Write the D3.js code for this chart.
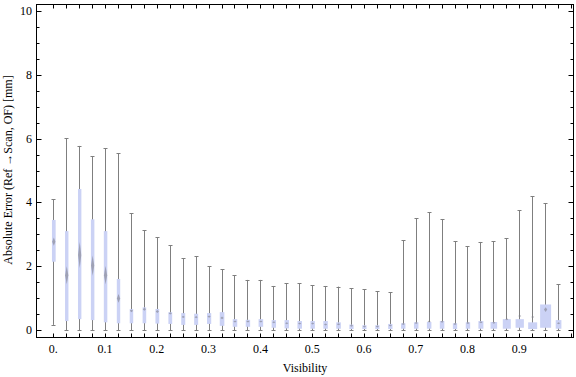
<!DOCTYPE html>
<html>
<head>
<meta charset="utf-8">
<script src="https://cdn.jsdelivr.net/npm/d3@7"></script>
<style>
  body { margin: 0; background: #fff; }
  svg { display: block; }
  text { font-family: "Liberation Serif", "DejaVu Serif", serif; fill: #000; }
</style>
</head>
<body>
<div id="chart"></div>
<script>
'use strict';

// box-whisker stats per visibility bin
var visibility = [0, 0.025, 0.05, 0.075, 0.1, 0.125, 0.15, 0.175, 0.2, 0.225,
    0.25, 0.275, 0.3, 0.325, 0.35, 0.375, 0.4, 0.425, 0.45, 0.475,
    0.5, 0.525, 0.55, 0.575, 0.6, 0.625, 0.65, 0.675, 0.7, 0.725,
    0.75, 0.775, 0.8, 0.825, 0.85, 0.875, 0.9, 0.925, 0.95, 0.975];
var whiskerLow = [0.16, 0, 0, 0, 0, 0, 0, 0, 0, 0,
    0, 0, 0, 0, 0, 0, 0, 0, 0, 0,
    0, 0, 0, 0, 0, 0, 0, 0, 0, 0,
    0, 0, 0, 0, 0, 0, 0, 0, 0, 0];
var quartile1 = [2.14, 0.28, 0.34, 0.31, 0.24, 0.21, 0.21, 0.21, 0.20, 0.19,
    0.16, 0.16, 0.19, 0.13, 0.10, 0.10, 0.10, 0.07, 0.05, 0.04,
    0.04, 0.04, 0.04, 0.03, 0.03, 0.03, 0.03, 0.04, 0.04, 0.04,
    0.04, 0.03, 0.04, 0.04, 0.04, 0.04, 0.07, 0.03, 0.07, 0.04];
var median = [2.77, 1.72, 2.35, 2.02, 1.72, 0.99, 0.60, 0.65, 0.58, 0.52,
    0.41, 0.40, 0.42, 0.38, 0.27, 0.27, 0.27, 0.24, 0.21, 0.20,
    0.20, 0.17, 0.18, 0.13, 0.11, 0.11, 0.14, 0.19, 0.22, 0.27,
    0.26, 0.19, 0.22, 0.24, 0.23, 0.34, 0.44, 0.41, 0.64, 0.21];
var quartile3 = [3.45, 3.10, 4.42, 3.47, 3.10, 1.60, 0.66, 0.71, 0.66, 0.56,
    0.53, 0.51, 0.53, 0.56, 0.34, 0.32, 0.34, 0.31, 0.31, 0.28,
    0.28, 0.28, 0.24, 0.17, 0.15, 0.15, 0.19, 0.21, 0.24, 0.25,
    0.28, 0.21, 0.24, 0.28, 0.25, 0.34, 0.34, 0.24, 0.80, 0.31];
var whiskerHigh = [4.10, 6.01, 5.77, 5.45, 5.69, 5.54, 3.66, 3.13, 2.90, 2.66,
    2.25, 2.31, 2.00, 1.90, 1.71, 1.57, 1.57, 1.38, 1.46, 1.46,
    1.40, 1.38, 1.36, 1.31, 1.27, 1.22, 1.18, 2.82, 3.50, 3.69,
    3.48, 2.78, 2.63, 2.76, 2.78, 2.87, 3.75, 4.20, 3.97, 1.43];
// relative bin weight, sets the box width
var binWeight = [3.7, 3.4, 3.4, 3.5, 3.5, 3.4, 3.5, 3.6, 3.8, 3.8,
    4, 4, 4.2, 4.6, 4.5, 4.4, 4.6, 4.4, 4.4, 4.5,
    4.4, 4.5, 4.6, 4.2, 4.2, 4.2, 4.3, 4.4, 4.5, 4.5,
    4.5, 4.3, 4.4, 5, 6.6, 8, 8.3, 9, 11, 5.7];

var xTickValues = [0, 0.1, 0.2, 0.3, 0.4, 0.5, 0.6, 0.7, 0.8, 0.9];
var xTickLabels = ['0.', '0.1', '0.2', '0.3', '0.4', '0.5', '0.6', '0.7', '0.8', '0.9'];
var yTickValues = [0, 2, 4, 6, 8, 10];

var W = 576, H = 377;
var frameL = 36.5, frameR = 573.5, frameT = 4.5, frameB = 337.5;

var x = d3.scaleLinear().domain([0, 1]).range([53.3, 571]);
var y = d3.scaleLinear().domain([0, 10]).range([330, 11]);
var wScale = d3.scaleLinear().domain([0, 1]).range([0, 1]);

var bins = visibility.map(function(v, i) {
    return {
        v: v,
        lo: whiskerLow[i],
        q1: quartile1[i],
        med: median[i],
        q3: quartile3[i],
        hi: whiskerHigh[i],
        w: wScale(binWeight[i])
    };
});

var svg = d3.select('#chart')
    .append('svg')
    .attr('width', W)
    .attr('height', H);

// minor ticks at every bin, plus the frame end
var minorX = visibility.concat([1]);
var minorY = d3.range(0, 10.01, 0.5);

function xTicks(yPos, dir) {
    svg.append('g')
        .selectAll('line')
        .data(minorX)
        .enter()
        .append('line')
        .attr('x1', function(d) { return Math.round(x(d)) + 0.5; })
        .attr('x2', function(d) { return Math.round(x(d)) + 0.5; })
        .attr('y1', yPos)
        .attr('y2', yPos + dir * 4)
        .attr('stroke', '#000')
        .attr('stroke-width', 1);
}

function yTicks(xPos, dir) {
    svg.append('g')
        .selectAll('line')
        .data(minorY)
        .enter()
        .append('line')
        .attr('y1', function(d) { return Math.round(y(d)) + 0.5; })
        .attr('y2', function(d) { return Math.round(y(d)) + 0.5; })
        .attr('x1', xPos)
        .attr('x2', function(d) {
            var len = (Math.abs(d % 2) < 1e-6) ? 5 : 3;
            return xPos + dir * len;
        })
        .attr('stroke', '#000')
        .attr('stroke-width', 1);
}

xTicks(frameB, -1);
xTicks(frameT, 1);
yTicks(frameL, 1);
yTicks(frameR, -1);

// whiskers
var g = svg.append('g');
g.selectAll('line.whisker')
    .data(bins)
    .enter()
    .append('line')
    .attr('class', 'whisker')
    .attr('x1', function(d) { return Math.round(x(d.v)) + 0.5; })
    .attr('x2', function(d) { return Math.round(x(d.v)) + 0.5; })
    .attr('y1', function(d) { return y(d.lo); })
    .attr('y2', function(d) { return y(d.hi); })
    .attr('stroke', '#7f7f7f')
    .attr('stroke-width', 1);

['lo', 'hi'].forEach(function(k) {
    g.selectAll('line.cap-' + k)
        .data(bins)
        .enter()
        .append('line')
        .attr('class', 'cap-' + k)
        .attr('x1', function(d) { return Math.round(x(d.v)) - 1.5; })
        .attr('x2', function(d) { return Math.round(x(d.v)) + 2.5; })
        .attr('y1', function(d) { return Math.round(y(d[k])) + 0.5; })
        .attr('y2', function(d) { return Math.round(y(d[k])) + 0.5; })
        .attr('stroke', '#7f7f7f')
        .attr('stroke-width', 1);
});

// boxes
g.selectAll('rect.box')
    .data(bins)
    .enter()
    .append('rect')
    .attr('class', 'box')
    .attr('x', function(d) { return x(d.v) + 0.5 - d.w / 2; })
    .attr('width', function(d) { return d.w; })
    .attr('y', function(d) { return y(d.q3); })
    .attr('height', function(d) { return y(d.q1) - y(d.q3); })
    .attr('fill', '#cbd2f5');

// median notch marks
g.selectAll('path.median')
    .data(bins)
    .enter()
    .append('path')
    .attr('class', 'median')
    .attr('d', function(d) {
        var cx = x(d.v) + 0.5;
        var cy = y(d.med);
        var hh = Math.max(1, (y(d.q1) - y(d.q3)) * 0.1);
        var hw = 1.6;
        return 'M' + (cx - hw) + ',' + cy + 'L' + cx + ',' + (cy - hh) +
            'L' + (cx + hw) + ',' + cy + 'L' + cx + ',' + (cy + hh) + 'Z';
    })
    .attr('fill', '#80808a')
    .attr('opacity', 0.6);

// frame
svg.append('rect')
    .attr('x', frameL)
    .attr('y', frameT)
    .attr('width', frameR - frameL)
    .attr('height', frameB - frameT)
    .attr('fill', 'none')
    .attr('stroke', '#000')
    .attr('stroke-width', 1);

// tick labels
svg.append('g')
    .selectAll('text')
    .data(xTickValues)
    .enter()
    .append('text')
    .attr('x', function(d) { return x(d); })
    .attr('y', 353)
    .attr('text-anchor', 'middle')
    .attr('font-size', 12)
    .text(function(d, i) { return xTickLabels[i]; });

svg.append('g')
    .selectAll('text')
    .data(yTickValues)
    .enter()
    .append('text')
    .attr('x', 32)
    .attr('y', function(d) { return y(d); })
    .attr('dy', '0.33em')
    .attr('text-anchor', 'end')
    .attr('font-size', 12)
    .text(function(d) { return d; });

// axis titles
svg.append('text')
    .attr('x', 305)
    .attr('y', 372)
    .attr('text-anchor', 'middle')
    .attr('font-size', 12)
    .text('Visibility');

svg.append('text')
    .attr('transform', 'translate(12,170) rotate(-90)')
    .attr('text-anchor', 'middle')
    .attr('font-size', 12)
    .text('Absolute Error (Ref \u2192Scan, OF) [mm]');
</script>
</body>
</html>
